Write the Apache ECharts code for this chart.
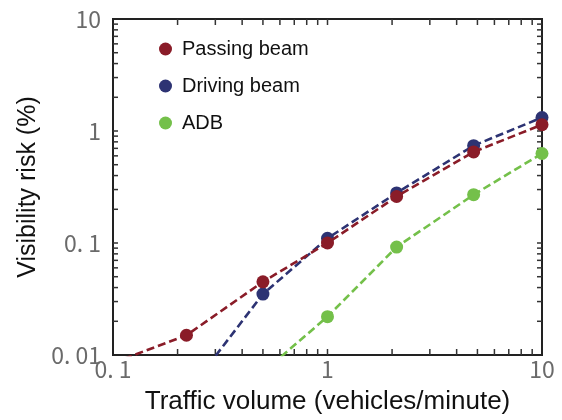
<!DOCTYPE html>
<html>
<head>
<meta charset="utf-8">
<script src="https://cdn.jsdelivr.net/npm/echarts@6/dist/echarts.min.js"></script>
<style>html,body{margin:0;padding:0;background:#fff;}#c{width:562px;height:420px;}</style>
</head>
<body>
<div id="c"></div>
<script>
// ---- data ----
var seriesNames = ['Passing beam', 'Driving beam', 'ADB'];
var passingX = [0.1, 0.22, 0.5, 1, 2.1, 4.8, 10];
var passingY = [0.0085, 0.015, 0.045, 0.1, 0.26, 0.65, 1.14];
var drivingX = [0.22, 0.5, 1, 2.1, 4.8, 10];
var drivingY = [0.0045, 0.035, 0.11, 0.28, 0.74, 1.32];
var adbX = [0.5, 1, 2.1, 4.8, 10];
var adbY = [0.007, 0.022, 0.092, 0.27, 0.63];
var xLabelValues = [0.1, 1, 10];
var xLabelTexts = ['0. 1', '1', '10'];
var yLabelValues = [0.01, 0.1, 1, 10];
var yLabelTexts = ['0. 01', '0. 1', '1', '10'];
var xMinorTicks = [0.2,0.3,0.4,0.5,0.6,0.7,0.8,0.9,1,2,3,4,5,6,7,8,9];
var yMinorTicks = [0.02,0.03,0.04,0.05,0.06,0.07,0.08,0.09,0.1,0.2,0.3,0.4,0.5,0.6,0.7,0.8,0.9,1,2,3,4,5,6,7,8,9];
var xRange = [0.1, 10];
var yRange = [0.01, 10];

function zip(xs, ys){ return xs.map(function(x,i){ return [x, ys[i]]; }); }
function labelFor(vals, texts){
  return function(v){
    for (var i=0;i<vals.length;i++){ if (Math.abs(Math.log10(v)-Math.log10(vals[i]))<1e-6) return texts[i]; }
    return '';
  };
}

var colors = {'Passing beam':'#8a1c28','Driving beam':'#2d3373','ADB':'#74c04a'};
var tickColor = '#333';

function lineSeries(name, xs, ys, z){
  return {
    name: name, type: 'line', data: zip(xs, ys), z: z,
    symbol: 'circle', symbolSize: 13, clip: true,
    itemStyle: {color: colors[name]},
    lineStyle: {color: colors[name], width: 2.6, type: [8, 4]},
    emphasis: {disabled: true}
  };
}

var chart = echarts.init(document.getElementById('c'), null, {renderer: 'canvas'});
chart.setOption({
  animation: false,
  backgroundColor: '#fff',
  grid: {left: 113, right: 20, top: 19, bottom: 64, show: true, borderColor: '#222', borderWidth: 2, backgroundColor: 'transparent'},
  legend: {
    data: seriesNames, orient: 'vertical', left: 154, top: 34,
    icon: 'circle', itemWidth: 13, itemHeight: 13, itemGap: 17,
    textStyle: {fontFamily: 'Liberation Sans, Arial, sans-serif', fontSize: 20, color: '#111', padding: [0,0,0,5]}
  },
  xAxis: {
    type: 'log', logBase: 10, min: xRange[0], max: xRange[1],
    name: 'Traffic volume (vehicles/minute)', nameLocation: 'middle', nameGap: 34,
    nameTextStyle: {fontFamily: 'Liberation Sans, Arial, sans-serif', fontSize: 26, color: '#111'},
    axisLine: {show: true, lineStyle: {color: '#222', width: 2}},
    axisTick: {show: false},
    splitLine: {show: false},
    axisLabel: {formatter: labelFor(xLabelValues, xLabelTexts), fontFamily: 'Noto Sans CJK JP, sans-serif', fontSize: 23, color: '#6a6a6a', margin: 3, showMinLabel: true, showMaxLabel: true}
  },
  yAxis: {
    type: 'log', logBase: 10, min: yRange[0], max: yRange[1],
    name: 'Visibility risk (%)', nameLocation: 'middle', nameGap: 62,
    nameTextStyle: {fontFamily: 'Liberation Sans, Arial, sans-serif', fontSize: 25, color: '#111'},
    axisLine: {show: true, lineStyle: {color: '#222', width: 2}},
    axisTick: {show: false},
    splitLine: {show: false},
    axisLabel: {formatter: labelFor(yLabelValues, yLabelTexts), fontFamily: 'Noto Sans CJK JP, sans-serif', fontSize: 23, color: '#6a6a6a', margin: 12, showMinLabel: true, showMaxLabel: true}
  },
  series: [
    {
      type: 'custom', name: 'xticks', silent: true, clip: false, z: 1,
      data: xMinorTicks.map(function(v){ return [v]; }),
      renderItem: function(params, api){
        var v = api.value(0);
        var b = api.coord([v, yRange[0]]);
        var t = api.coord([v, yRange[1]]);
        return {type: 'group', children: [
          {type: 'line', shape: {x1: b[0], y1: b[1], x2: b[0], y2: b[1]-6}, style: {stroke: tickColor, lineWidth: 1.5}},
          {type: 'line', shape: {x1: t[0], y1: t[1], x2: t[0], y2: t[1]+6}, style: {stroke: tickColor, lineWidth: 1.5}}
        ]};
      }
    },
    {
      type: 'custom', name: 'yticks', silent: true, clip: false, z: 1,
      data: yMinorTicks.map(function(v){ return [xRange[0], v]; }),
      renderItem: function(params, api){
        var v = api.value(1);
        var l = api.coord([xRange[0], v]);
        var r = api.coord([xRange[1], v]);
        return {type: 'group', children: [
          {type: 'line', shape: {x1: l[0], y1: l[1], x2: l[0]+5, y2: l[1]}, style: {stroke: tickColor, lineWidth: 1.5}},
          {type: 'line', shape: {x1: r[0], y1: r[1], x2: r[0]-5, y2: r[1]}, style: {stroke: tickColor, lineWidth: 1.5}}
        ]};
      }
    },
    lineSeries('ADB', adbX, adbY, 3),
    lineSeries('Driving beam', drivingX, drivingY, 4),
    lineSeries('Passing beam', passingX, passingY, 5)
  ]
});
</script>
</body>
</html>
